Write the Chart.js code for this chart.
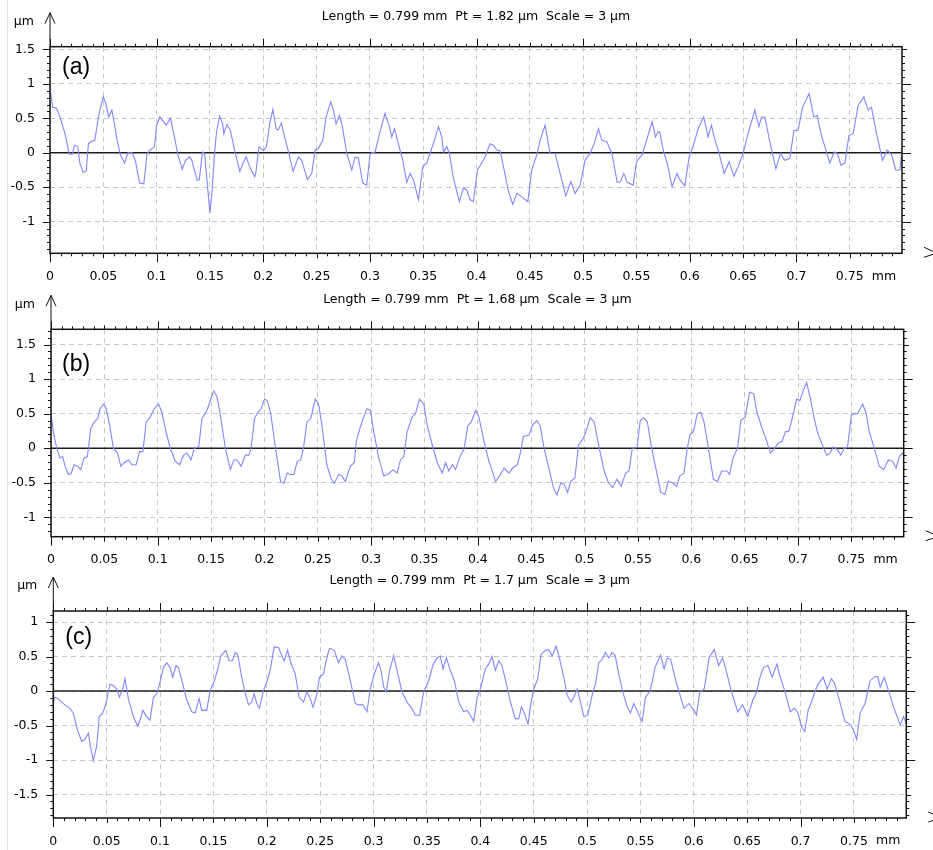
<!DOCTYPE html>
<html>
<head>
<meta charset="utf-8">
<script src="https://cdn.jsdelivr.net/npm/chart.js@4.4.1/dist/chart.umd.min.js"></script>
<style>
  body { margin: 0; background: #fff; width: 933px; height: 850px; position: relative; overflow: hidden; }
  canvas { position: absolute; left: 0; }
  #edge { position: absolute; left: 7px; top: 0; width: 1px; height: 850px; background: #e6e2da; }
</style>
</head>
<body>
<div id="edge"></div>
<canvas id="pa" width="933" height="290" style="top:0px"></canvas>
<canvas id="pb" width="933" height="290" style="top:284px"></canvas>
<canvas id="pc" width="933" height="284" style="top:566px"></canvas>
<script>
// profile length (mm) and the three height ranges (µm), 3 µm scale each
const xMax = 0.799
const yRanges = [[-1.46, 1.54], [-1.28, 1.72], [-1.84, 1.16]]
const xTicks = [0, 0.05, 0.1, 0.15, 0.2, 0.25, 0.3, 0.35, 0.4, 0.45, 0.5, 0.55, 0.6, 0.65, 0.7, 0.75]
const yTicks = [
  [-1, -0.5, 0, 0.5, 1, 1.5],
  [-1, -0.5, 0, 0.5, 1, 1.5],
  [-1.5, -1, -0.5, 0, 0.5, 1]
]
const titles = [
  'Length = 0.799 mm  Pt = 1.82 µm  Scale = 3 µm',
  'Length = 0.799 mm  Pt = 1.68 µm  Scale = 3 µm',
  'Length = 0.799 mm  Pt = 1.7 µm  Scale = 3 µm'
]
const letters = ['(a)', '(b)', '(c)']

// [position mm, height µm]
const profileA = [
  [0, 0.94], [0.0025, 0.66], [0.006, 0.65], [0.009, 0.54], [0.014, 0.28], [0.018, -0.02], [0.021, -0.02], [0.023, 0.11],
  [0.026, 0.09], [0.028, -0.15], [0.031, -0.28], [0.034, -0.27], [0.036, 0.13], [0.038, 0.16], [0.042, 0.18], [0.046, 0.57],
  [0.05, 0.81], [0.0525, 0.71], [0.055, 0.52], [0.058, 0.62], [0.059, 0.54], [0.063, 0.18], [0.066, -0.03], [0.07, -0.15],
  [0.073, 0.0], [0.077, 0.0], [0.08, -0.11], [0.084, -0.44], [0.088, -0.45], [0.091, -0.01], [0.094, 0.04], [0.098, 0.09],
  [0.1, 0.4], [0.103, 0.52], [0.106, 0.46], [0.109, 0.4], [0.113, 0.5], [0.116, 0.28], [0.12, -0.03], [0.124, -0.24],
  [0.127, -0.11], [0.131, -0.06], [0.133, -0.11], [0.138, -0.4], [0.14, -0.39], [0.143, 0.01], [0.145, -0.01], [0.148, -0.54],
  [0.15, -0.87], [0.152, -0.56], [0.154, -0.06], [0.156, 0.28], [0.159, 0.53], [0.162, 0.42], [0.163, 0.28], [0.166, 0.41],
  [0.169, 0.33], [0.174, -0.02], [0.178, -0.27], [0.181, -0.15], [0.184, -0.06], [0.188, -0.23], [0.192, -0.35], [0.193, -0.3],
  [0.196, 0.09], [0.2, 0.03], [0.203, 0.09], [0.206, 0.42], [0.209, 0.63], [0.212, 0.35], [0.214, 0.33], [0.217, 0.43],
  [0.22, 0.23], [0.224, -0.01], [0.228, -0.27], [0.233, -0.06], [0.236, -0.11], [0.2414, -0.39], [0.2455, -0.3], [0.2486, 0.04],
  [0.2517, 0.06], [0.2558, 0.18], [0.2589, 0.52], [0.2633, 0.74], [0.2658, 0.62], [0.2683, 0.42], [0.2714, 0.54], [0.2739, 0.4],
  [0.2783, -0.01], [0.283, -0.25], [0.2861, -0.06], [0.2892, -0.08], [0.2933, -0.44], [0.297, -0.47], [0.3002, -0.01], [0.3049, 0.01],
  [0.309, 0.28], [0.3142, 0.57], [0.3183, 0.38], [0.3205, 0.23], [0.323, 0.35], [0.3267, 0.13], [0.3308, -0.11], [0.3346, -0.43],
  [0.3377, -0.3], [0.3408, -0.39], [0.3455, -0.68], [0.3496, -0.2], [0.3533, -0.15], [0.3574, 0.04], [0.3605, 0.18], [0.3643, 0.38],
  [0.3674, 0.23], [0.369, 0.01], [0.3721, 0.09], [0.3746, -0.01], [0.3783, -0.37], [0.3839, -0.71], [0.3877, -0.51], [0.3908, -0.54],
  [0.3939, -0.68], [0.3971, -0.71], [0.4008, -0.25], [0.4049, -0.15], [0.408, -0.06], [0.4127, 0.13], [0.4158, 0.11], [0.4189, 0.04],
  [0.4221, 0.03], [0.4259, -0.25], [0.4299, -0.56], [0.434, -0.75], [0.4378, -0.59], [0.4415, -0.63], [0.4481, -0.71], [0.4518, -0.25],
  [0.4565, -0.03], [0.4596, 0.18], [0.4643, 0.4], [0.4668, 0.18], [0.469, -0.01], [0.4737, -0.01], [0.4784, -0.3], [0.4837, -0.63],
  [0.4884, -0.42], [0.4925, -0.59], [0.4972, -0.47], [0.5018, -0.11], [0.5065, -0.01], [0.5103, 0.13], [0.5143, 0.35], [0.5175, 0.18],
  [0.5222, 0.16], [0.5269, -0.01], [0.5319, -0.43], [0.535, -0.42], [0.5381, -0.3], [0.5412, -0.43], [0.5469, -0.47], [0.55, -0.13],
  [0.5556, -0.02], [0.5594, 0.18], [0.5647, 0.45], [0.5678, 0.23], [0.5703, 0.3], [0.5719, 0.3], [0.575, 0.04], [0.5788, -0.15],
  [0.5834, -0.49], [0.5881, -0.3], [0.5906, -0.39], [0.5953, -0.48], [0.5994, -0.06], [0.6031, 0.09], [0.6078, 0.35], [0.6131, 0.52],
  [0.6172, 0.23], [0.6203, 0.4], [0.6228, 0.23], [0.6275, -0.01], [0.6322, -0.3], [0.6369, -0.13], [0.6413, -0.34], [0.6454, -0.2],
  [0.65, -0.01], [0.6547, 0.28], [0.661, 0.62], [0.6648, 0.38], [0.6672, 0.52], [0.6704, 0.52], [0.675, 0.16], [0.6807, -0.23],
  [0.6851, -0.01], [0.6891, -0.11], [0.6938, -0.08], [0.6976, 0.32], [0.7016, 0.33], [0.7057, 0.66], [0.7119, 0.86], [0.7163, 0.52],
  [0.7194, 0.54], [0.7235, 0.25], [0.7282, 0.01], [0.7313, -0.15], [0.7354, 0.01], [0.7385, -0.01], [0.7417, -0.18], [0.7454, -0.15],
  [0.7492, 0.25], [0.7532, 0.28], [0.7579, 0.69], [0.7632, 0.81], [0.7673, 0.62], [0.7704, 0.66], [0.7751, 0.28], [0.7807, -0.11],
  [0.7851, 0.04], [0.7892, -0.03], [0.7932, -0.25], [0.797, -0.25], [0.799, 0.04]
]

const profileB = [
  [0, 0.5], [0.0022, 0.24], [0.0053, 0], [0.0085, -0.14], [0.011, -0.12], [0.0131, -0.26], [0.0163, -0.38], [0.0188, -0.37],
  [0.0216, -0.24], [0.0247, -0.26], [0.0279, -0.31], [0.031, -0.14], [0.0341, -0.12], [0.0373, 0.29], [0.0407, 0.38], [0.0438, 0.43],
  [0.046, 0.57], [0.0492, 0.64], [0.0517, 0.57], [0.0554, 0.29], [0.0585, 0], [0.0623, -0.07], [0.0654, -0.26], [0.0686, -0.21],
  [0.0726, -0.17], [0.0758, -0.24], [0.0798, -0.24], [0.083, -0.05], [0.0861, -0.05], [0.0892, 0.38], [0.093, 0.45], [0.0967, 0.57],
  [0.1008, 0.64], [0.1039, 0.52], [0.1077, 0.24], [0.1118, 0], [0.1165, -0.19], [0.1205, -0.24], [0.1243, -0.1], [0.1274, -0.07],
  [0.1312, -0.17], [0.1343, 0], [0.1384, 0.02], [0.1415, 0.43], [0.1462, 0.55], [0.1493, 0.69], [0.1525, 0.83], [0.1556, 0.74],
  [0.1587, 0.48], [0.1634, 0], [0.1681, -0.31], [0.1713, -0.17], [0.1744, -0.17], [0.1781, -0.26], [0.1822, -0.1], [0.1853, -0.1],
  [0.1875, 0], [0.1907, 0.43], [0.1938, 0.52], [0.1969, 0.57], [0.2001, 0.71], [0.2026, 0.69], [0.2057, 0.52], [0.2104, 0],
  [0.2151, -0.48], [0.2182, -0.51], [0.2213, -0.36], [0.2239, -0.38], [0.2276, -0.38], [0.2307, -0.19], [0.2339, -0.17], [0.2366, 0],
  [0.2398, 0.38], [0.2435, 0.43], [0.2476, 0.71], [0.2507, 0.64], [0.2539, 0.33], [0.2585, -0.24], [0.2623, -0.43], [0.2654, -0.51],
  [0.2695, -0.38], [0.2726, -0.4], [0.2758, -0.48], [0.2805, -0.26], [0.2842, -0.21], [0.2861, 0.1], [0.2899, 0.31], [0.293, 0.45],
  [0.2961, 0.57], [0.2993, 0.55], [0.3024, 0.24], [0.3071, -0.14], [0.3118, -0.4], [0.3155, -0.38], [0.3205, -0.31], [0.3243, -0.36],
  [0.3274, -0.17], [0.3305, -0.12], [0.3337, 0.24], [0.3384, 0.45], [0.3415, 0.5], [0.3453, 0.71], [0.3493, 0.64], [0.3525, 0.33],
  [0.3572, 0.05], [0.3619, -0.21], [0.3666, -0.36], [0.3697, -0.21], [0.3728, -0.33], [0.376, -0.24], [0.3791, -0.31], [0.3838, -0.1],
  [0.3869, -0.02], [0.3907, 0.33], [0.3938, 0.38], [0.3979, 0.55], [0.401, 0.45], [0.4057, 0.1], [0.4104, -0.19], [0.4166, -0.48],
  [0.4204, -0.4], [0.4245, -0.29], [0.4292, -0.36], [0.4323, -0.29], [0.437, -0.24], [0.4401, -0.05], [0.4426, 0.17], [0.4479, 0.19],
  [0.4511, 0.33], [0.4552, 0.4], [0.4583, 0.33], [0.462, 0], [0.4668, -0.31], [0.4708, -0.57], [0.474, -0.68], [0.4777, -0.5],
  [0.4808, -0.52], [0.484, -0.64], [0.4871, -0.48], [0.4909, -0.43], [0.4943, 0.05], [0.4981, 0.12], [0.5012, 0.24], [0.5053, 0.44],
  [0.509, 0.38], [0.5137, 0], [0.5184, -0.33], [0.5222, -0.5], [0.5263, -0.57], [0.5303, -0.45], [0.5343, -0.55], [0.5384, -0.36],
  [0.5416, -0.33], [0.5447, 0], [0.5491, 0.01], [0.5522, 0.4], [0.5554, 0.44], [0.5588, 0.38], [0.5626, 0.02], [0.5673, -0.33],
  [0.5714, -0.64], [0.5752, -0.67], [0.5783, -0.48], [0.5824, -0.5], [0.5862, -0.55], [0.5893, -0.4], [0.5931, -0.36], [0.5962, 0],
  [0.5987, 0.19], [0.6019, 0.24], [0.6056, 0.5], [0.6088, 0.52], [0.6119, 0.38], [0.616, 0], [0.6207, -0.45], [0.6245, -0.48],
  [0.6285, -0.33], [0.6333, -0.33], [0.6358, -0.38], [0.6395, -0.12], [0.6433, 0], [0.6464, 0.4], [0.6505, 0.45], [0.6546, 0.81],
  [0.6584, 0.79], [0.6615, 0.52], [0.6662, 0.29], [0.6703, 0.12], [0.6741, -0.07], [0.6772, -0.02], [0.681, 0.07], [0.6851, 0.1],
  [0.6882, 0.24], [0.6913, 0.24], [0.696, 0.52], [0.6986, 0.71], [0.7017, 0.69], [0.7048, 0.83], [0.708, 0.95], [0.7117, 0.71],
  [0.7149, 0.45], [0.718, 0.24], [0.7227, 0.05], [0.7268, -0.1], [0.7299, -0.07], [0.733, 0.02], [0.7368, -0.02], [0.74, -0.1],
  [0.7431, 0], [0.7463, 0.01], [0.75, 0.48], [0.7526, 0.5], [0.7557, 0.5], [0.7604, 0.64], [0.7636, 0.52], [0.7667, 0.24],
  [0.7714, 0], [0.7761, -0.26], [0.7802, -0.31], [0.7846, -0.17], [0.7887, -0.19], [0.7918, -0.29], [0.795, -0.12], [0.7981, -0.07],
  [0.799, -0.1]
]

const profileC = [
  [0, -0.16], [0.0016, -0.09], [0.0047, -0.11], [0.0078, -0.16], [0.0109, -0.2], [0.0156, -0.25], [0.0188, -0.32], [0.0225, -0.56],
  [0.0266, -0.73], [0.0297, -0.7], [0.0328, -0.61], [0.035, -0.82], [0.0375, -1.01], [0.0406, -0.8], [0.0431, -0.37], [0.0463, -0.32],
  [0.0494, -0.18], [0.0531, 0.1], [0.0563, 0.08], [0.0594, 0.03], [0.0619, -0.09], [0.065, 0.03], [0.0672, 0.18], [0.0703, -0.11],
  [0.075, -0.37], [0.0791, -0.51], [0.0813, -0.42], [0.0838, -0.28], [0.0875, -0.37], [0.0906, -0.42], [0.0938, -0.09], [0.0969, -0.04],
  [0.1, 0.13], [0.1031, 0.34], [0.1063, 0.41], [0.1094, 0.34], [0.1119, 0.2], [0.115, 0.37], [0.1172, 0.34], [0.1213, 0.1],
  [0.125, -0.13], [0.1297, -0.3], [0.1328, -0.32], [0.1366, -0.11], [0.1391, -0.28], [0.1438, -0.28], [0.1469, 0.01], [0.1509, 0.15],
  [0.1538, 0.3], [0.1569, 0.51], [0.1616, 0.59], [0.1647, 0.44], [0.1678, 0.44], [0.1703, 0.56], [0.1728, 0.53], [0.1759, 0.25],
  [0.1791, 0.01], [0.1828, -0.2], [0.1859, -0.16], [0.1881, -0.04], [0.1906, -0.18], [0.1931, -0.25], [0.1969, 0.01], [0.2, 0.13],
  [0.2031, 0.3], [0.2069, 0.64], [0.2109, 0.63], [0.2141, 0.51], [0.2163, 0.44], [0.2194, 0.59], [0.2225, 0.41], [0.2266, 0.25],
  [0.2303, -0.09], [0.2344, -0.16], [0.2375, -0.01], [0.2407, -0.11], [0.2432, -0.23], [0.2463, -0.09], [0.2494, 0.2], [0.2532, 0.25],
  [0.2563, 0.49], [0.2588, 0.62], [0.2632, 0.59], [0.2672, 0.41], [0.2703, 0.51], [0.2735, 0.46], [0.2782, 0.15], [0.2828, -0.18],
  [0.286, -0.2], [0.29, -0.2], [0.2938, -0.3], [0.2969, 0.03], [0.3007, 0.25], [0.3047, 0.41], [0.3069, 0.3], [0.3094, 0.06],
  [0.3119, -0.01], [0.315, 0.3], [0.3188, 0.51], [0.3219, 0.3], [0.3266, -0.01], [0.3313, -0.16], [0.336, -0.25], [0.3391, -0.35],
  [0.3432, -0.35], [0.3469, -0.01], [0.3516, 0.15], [0.3557, 0.38], [0.3594, 0.48], [0.3625, 0.51], [0.365, 0.32], [0.3682, 0.48],
  [0.3719, 0.3], [0.3757, 0.15], [0.3797, -0.16], [0.3844, -0.3], [0.3875, -0.28], [0.3907, -0.35], [0.3938, -0.44], [0.3969, -0.11],
  [0.4, 0.03], [0.4047, 0.32], [0.4078, 0.39], [0.4109, 0.5], [0.4141, 0.3], [0.4172, 0.44], [0.4203, 0.37], [0.4244, 0.1],
  [0.4282, -0.16], [0.4328, -0.4], [0.436, -0.4], [0.4385, -0.23], [0.4413, -0.32], [0.4447, -0.48], [0.4469, -0.23], [0.45, 0.03],
  [0.4538, 0.18], [0.4569, 0.53], [0.4609, 0.59], [0.4641, 0.6], [0.4672, 0.51], [0.471, 0.65], [0.4744, 0.46], [0.4782, 0.2],
  [0.4813, -0.06], [0.485, -0.16], [0.4875, -0.09], [0.4907, 0.03], [0.4938, -0.16], [0.4969, -0.37], [0.5007, -0.35], [0.5047, -0.06],
  [0.5078, 0.1], [0.5109, 0.41], [0.5141, 0.46], [0.5172, 0.56], [0.5203, 0.48], [0.5235, 0.56], [0.5264, 0.51], [0.5296, 0.25],
  [0.5334, -0.01], [0.5375, -0.23], [0.5406, -0.32], [0.5437, -0.18], [0.5478, -0.32], [0.5516, -0.44], [0.5547, -0.09], [0.5585, -0.01],
  [0.561, 0.13], [0.5635, 0.34], [0.5689, 0.52], [0.5721, 0.32], [0.5752, 0.48], [0.5783, 0.46], [0.583, 0.15], [0.5861, -0.01],
  [0.5908, -0.25], [0.5955, -0.18], [0.6002, -0.28], [0.6024, -0.35], [0.6056, -0.01], [0.6097, 0.03], [0.6144, 0.49], [0.6191, 0.6],
  [0.6232, 0.37], [0.627, 0.48], [0.6311, 0.25], [0.6348, 0.01], [0.6411, -0.3], [0.6458, -0.2], [0.6505, -0.37], [0.6552, -0.13],
  [0.659, -0.01], [0.6615, 0.18], [0.6653, 0.34], [0.6694, 0.37], [0.6734, 0.2], [0.6778, 0.39], [0.6809, 0.2], [0.685, 0.01],
  [0.6903, -0.3], [0.6944, -0.25], [0.6976, -0.32], [0.7007, -0.51], [0.7039, -0.59], [0.707, -0.28], [0.7102, -0.16], [0.7133, -0.01],
  [0.7164, 0.1], [0.7211, 0.2], [0.7249, 0.03], [0.729, 0.18], [0.7321, 0.1], [0.7368, -0.16], [0.7415, -0.44], [0.7469, -0.49],
  [0.7494, -0.56], [0.7525, -0.7], [0.7557, -0.32], [0.7604, -0.18], [0.7651, 0.15], [0.7698, 0.21], [0.7723, 0.21], [0.7745, 0.06],
  [0.7783, 0.2], [0.7823, 0.01], [0.787, -0.23], [0.7933, -0.49], [0.7965, -0.37], [0.799, -0.47]
]

const fmt = v => String(Math.round(v * 100) / 100)
const labelFont = { family: 'DejaVu Sans', size: 12.5 }

// box, tick marks, zero line, arrows and captions of one profile
const framePlugin = {
  id: 'frame',
  beforeDatasetsDraw(chart) {
    const { ctx, chartArea: a, scales: { y } } = chart
    const y0 = y.getPixelForValue(0)
    ctx.save()
    ctx.strokeStyle = '#1c1c1c'
    ctx.lineWidth = 1.5
    ctx.beginPath()
    ctx.moveTo(a.left, y0)
    ctx.lineTo(a.right, y0)
    ctx.stroke()
    ctx.restore()
  },
  afterDraw(chart, args, opts) {
    const { ctx, chartArea: a, scales: { x, y } } = chart
    ctx.save()
    ctx.strokeStyle = '#111'
    ctx.lineWidth = 1
    ctx.beginPath()
    for (let i = 0; i <= Math.floor(xMax * 100); i++) {
      const px = Math.round(x.getPixelForValue(i / 100)) + 0.5
      const up = i % 10 === 0 ? 8 : i % 5 === 0 ? 4 : 3
      const down = i % 10 === 0 ? 9 : i % 5 === 0 ? 5 : 3
      ctx.moveTo(px, a.top)
      ctx.lineTo(px, a.top - up)
      ctx.moveTo(px, a.bottom)
      ctx.lineTo(px, a.bottom + down)
    }
    for (let k = Math.ceil(y.min * 10); k <= Math.floor(y.max * 10); k++) {
      const py = Math.round(y.getPixelForValue(k / 10)) + 0.5
      const left = k % 5 === 0 ? 7 : 3
      const right = k % 10 === 0 ? 9 : k % 5 === 0 ? 5 : 3
      ctx.moveTo(a.left, py)
      ctx.lineTo(a.left - left, py)
      ctx.moveTo(a.right, py)
      ctx.lineTo(a.right + right, py)
    }
    const tip = a.top - 34
    ctx.moveTo(a.left, a.top)
    ctx.lineTo(a.left, tip)
    ctx.moveTo(a.left - 5, tip + 11)
    ctx.lineTo(a.left, tip)
    ctx.lineTo(a.left + 5, tip + 11)
    ctx.moveTo(a.right + 22, a.bottom - 6)
    ctx.lineTo(a.right + 31, a.bottom - 2)
    ctx.moveTo(a.right + 22, a.bottom + 4)
    ctx.lineTo(a.right + 31, a.bottom + 1)
    ctx.stroke()
    ctx.lineWidth = 1.5
    ctx.strokeRect(a.left, a.top, a.right - a.left, a.bottom - a.top)

    ctx.fillStyle = '#000'
    ctx.font = '12.5px "DejaVu Sans"'
    ctx.textBaseline = 'middle'
    ctx.textAlign = 'center'
    ctx.fillText(opts.title, (a.left + a.right) / 2, a.top - 30)
    ctx.textAlign = 'right'
    ctx.fillText('µm', a.left - 16, a.top - 25)
    ctx.textAlign = 'left'
    ctx.fillText('mm', x.getPixelForValue(0.75) + 22, a.bottom + 23)
    ctx.font = '23px "Liberation Sans"'
    ctx.fillText(opts.letter, a.left + opts.letterAt[0], a.top + opts.letterAt[1])
    ctx.restore()
  }
}

function profileChart(id, points, range, yVals, title, letter, padding, letterAt) {
  return new Chart(document.getElementById(id), {
    type: 'line',
    data: {
      datasets: [{
        data: points.map(p => ({ x: p[0], y: p[1] })),
        borderColor: '#8087fb',
        borderWidth: 1.1,
        pointRadius: 0,
        tension: 0
      }]
    },
    options: {
      responsive: false,
      animation: false,
      devicePixelRatio: 1,
      layout: { padding: padding },
      plugins: {
        legend: { display: false },
        tooltip: { enabled: false },
        frame: { title: title, letter: letter, letterAt: letterAt }
      },
      scales: {
        x: {
          type: 'linear',
          min: 0,
          max: xMax,
          afterFit: s => { s.height = 30 },
          afterBuildTicks: s => { s.ticks = xTicks.map(v => ({ value: v })) },
          ticks: { autoSkip: false, maxRotation: 0, padding: 16, color: '#000', font: labelFont, callback: fmt },
          grid: { color: '#c6c6c6', drawTicks: false },
          border: { display: false, dash: [5, 4] }
        },
        y: {
          min: range[0],
          max: range[1],
          afterFit: s => { s.width = 44 },
          afterBuildTicks: s => { s.ticks = yVals.map(v => ({ value: v })) },
          ticks: { autoSkip: false, padding: 15, color: '#000', font: labelFont, callback: fmt },
          grid: { color: '#c6c6c6', drawTicks: false },
          border: { display: false, dash: [5, 4] }
        }
      }
    },
    plugins: [framePlugin]
  })
}

profileChart('pa', profileA, yRanges[0], yTicks[0], titles[0], letters[0], { left: 6, right: 31, top: 46.7, bottom: 6.7 }, [12, 21])
profileChart('pb', profileB, yRanges[1], yTicks[1], titles[1], letters[1], { left: 7, right: 29.3, top: 45.3, bottom: 7.3 }, [11, 35])
profileChart('pc', profileC, yRanges[2], yTicks[2], titles[2], letters[2], { left: 9.3, right: 26.7, top: 45, bottom: 2 }, [12, 27])
</script>
</body>
</html>
